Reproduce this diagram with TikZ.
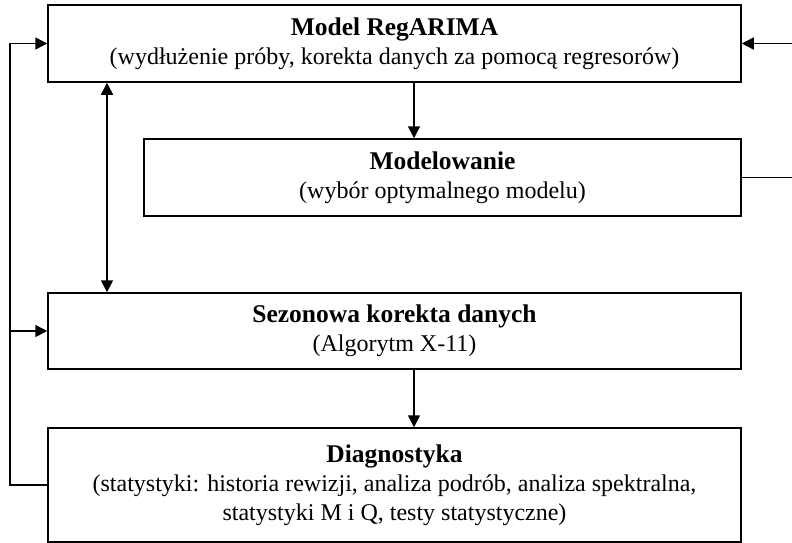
\documentclass[tikz,border=0pt]{standalone}
\usepackage{fontspec}
\setmainfont{Liberation Serif}
\usetikzlibrary{arrows.meta}
\newcommand{\boxtitle}[1]{{\fontsize{25.5}{29}\selectfont\bfseries #1}}
\begin{document}
\begin{tikzpicture}[x=1pt,y=-1pt,
  box/.style={draw,line width=1.5pt,inner sep=0pt,minimum width=693pt,align=center,
    font=\fontsize{24}{29}\selectfont},
  arr/.style={line width=1.5pt,-{Triangle[length=12pt,width=12pt]}},
  darr/.style={line width=1.5pt,{Triangle[length=12pt,width=12pt]}-{Triangle[length=12pt,width=12pt]}}]
\useasboundingbox (0,0) rectangle (792,543);
\node[box,minimum height=77pt] (b1) at (394.5,43.5) {\boxtitle{Model RegARIMA}\\(wydłużenie próby, korekta danych za pomocą regresorów)};
\node[box,minimum height=77pt,minimum width=597pt] (b2) at (442.5,177.5) {\boxtitle{Modelowanie}\\(wybór optymalnego modelu)};
\node[box,minimum height=76pt] (b3) at (394.5,331) {\boxtitle{Sezonowa korekta danych}\\(Algorytm X-11)};
\node[box,minimum height=114pt] (b4) at (394.5,485) {\boxtitle{Diagnostyka}\\(statystyki: historia rewizji, analiza podrób, analiza spektralna,\\statystyki M i Q, testy statystyczne)};
\coordinate (xa) at (414,0);
\coordinate (xb) at (107,0);
\coordinate (L) at (10,0);
\coordinate (R) at (796,0);
\draw[arr] (b1.south -| xa) -- (b2.north -| xa);
\draw[arr] (b3.south -| xa) -- (b4.north -| xa);
\draw[darr] (b1.south -| xb) -- (b3.north -| xb);
\draw[arr] (b4.west) -- (b4.west -| L) |- (b1.west);
\draw[arr] (b3.west -| L) -- (b3.west);
\draw[arr] (b2.east) -- (b2.east -| R) |- (b1.east);
\end{tikzpicture}
\end{document}
